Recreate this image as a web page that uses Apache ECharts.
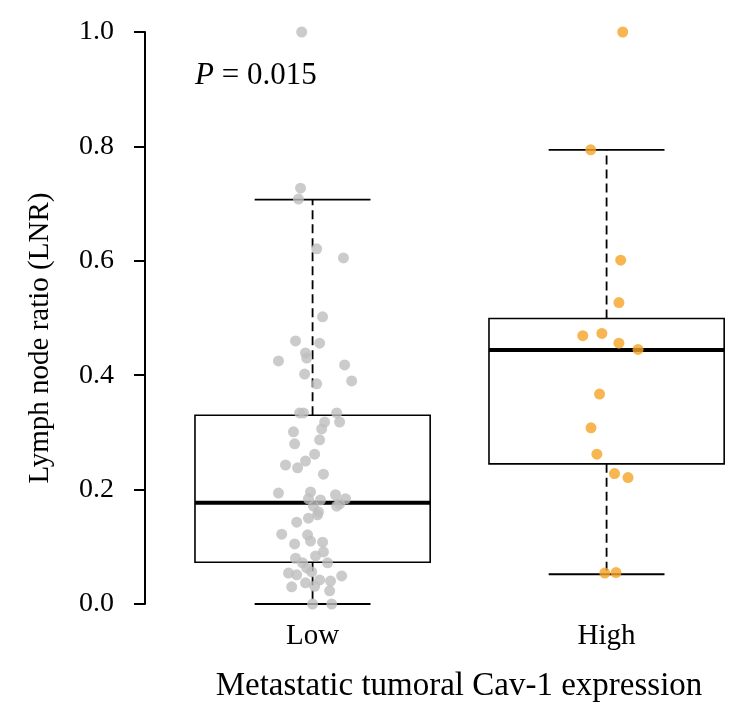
<!DOCTYPE html>
<html>
<head>
<meta charset="utf-8">
<script src="https://cdn.jsdelivr.net/npm/echarts@6/dist/echarts.min.js"></script>
<style>html,body{margin:0;padding:0;background:#fff}#c{width:746px;height:723px}</style>
</head>
<body>
<div id="c"></div>
<script>
const categories = ['Low', 'High'];
const yTickValues = [0.0, 0.2, 0.4, 0.6, 0.8, 1.0];
// box stats: [lower whisker, Q1, median, Q3, upper whisker]
const lowBox = [0.000, 0.073, 0.177, 0.330, 0.707];
const highBox = [0.052, 0.245, 0.444, 0.499, 0.794];
// jittered points: horizontal offsets (category units) and values
const lowOffsets = [-0.037,-0.041,-0.048,0.014,0.105,0.034,-0.058,0.024,-0.024,-0.020,-0.116,0.109,-0.027,0.133,0.014,-0.044,-0.031,0.082,0.092,0.041,0.031,-0.065,-0.061,0.024,0.007,-0.024,-0.092,-0.051,0.037,-0.116,-0.007,0.078,0.112,-0.014,0.027,0.092,0.003,0.082,0.020,0.017,-0.014,-0.054,-0.105,-0.017,-0.007,-0.061,0.034,0.037,0.010,-0.058,0.051,-0.034,-0.020,-0.082,-0.054,0.099,-0.003,-0.024,0.024,0.061,-0.071,0.058,0.007,0.000,0.065];
const lowValues = [1.000,0.727,0.708,0.621,0.605,0.502,0.460,0.456,0.439,0.430,0.425,0.418,0.402,0.390,0.385,0.334,0.334,0.334,0.318,0.318,0.306,0.301,0.280,0.287,0.262,0.250,0.243,0.238,0.227,0.194,0.196,0.191,0.184,0.184,0.182,0.175,0.171,0.171,0.161,0.156,0.150,0.143,0.122,0.121,0.110,0.105,0.108,0.091,0.084,0.080,0.072,0.072,0.063,0.054,0.051,0.049,0.056,0.037,0.042,0.040,0.030,0.023,0.031,0.000,0.000];
const highOffsets = [0.055,-0.054,0.048,0.042,-0.081,-0.016,0.042,0.107,-0.024,-0.053,-0.033,0.027,0.073,-0.006,0.032];
const highValues = [1.000,0.794,0.601,0.527,0.469,0.473,0.456,0.445,0.367,0.308,0.262,0.228,0.221,0.054,0.055];

const FONT = 'Liberation Serif';
const boxData = [[1].concat(lowBox), [2].concat(highBox)];
const lowPts = lowValues.map((v, i) => [1 + lowOffsets[i], v]);
const highPts = highValues.map((v, i) => [2 + highOffsets[i], v]);

function renderBox(params, api) {
  const x = api.value(0);
  const lo = api.value(1), q1 = api.value(2), md = api.value(3), q3 = api.value(4), hi = api.value(5);
  const hw = 0.4, cw = 0.197;
  const pL = api.coord([x - hw, q3]), pR = api.coord([x + hw, q1]);
  const c = (xx, yy) => api.coord([xx, yy]);
  const solid = {stroke: '#000', lineWidth: 1.8, fill: null};
  const dashed = {stroke: '#000', lineWidth: 1.8, lineDash: [9, 5]};
  return {
    type: 'group',
    children: [
      {type: 'rect', shape: {x: pL[0], y: pL[1], width: pR[0] - pL[0], height: pR[1] - pL[1]}, style: {stroke: '#000', lineWidth: 1.6, fill: 'none'}},
      {type: 'line', shape: {x1: c(x - hw, md)[0], y1: c(x, md)[1], x2: c(x + hw, md)[0], y2: c(x, md)[1]}, style: {stroke: '#000', lineWidth: 4}},
      {type: 'line', shape: {x1: c(x, q3)[0], y1: c(x, q3)[1], x2: c(x, hi)[0], y2: c(x, hi)[1]}, style: dashed},
      {type: 'line', shape: {x1: c(x, q1)[0], y1: c(x, q1)[1], x2: c(x, lo)[0], y2: c(x, lo)[1]}, style: dashed},
      {type: 'line', shape: {x1: c(x - cw, hi)[0], y1: c(x, hi)[1], x2: c(x + cw, hi)[0], y2: c(x, hi)[1]}, style: solid},
      {type: 'line', shape: {x1: c(x - cw, lo)[0], y1: c(x, lo)[1], x2: c(x + cw, lo)[0], y2: c(x, lo)[1]}, style: solid}
    ]
  };
}

const chart = echarts.init(document.getElementById('c'), null, {renderer: 'canvas'});
chart.setOption({
  animation: false,
  backgroundColor: '#fff',
  textStyle: {fontFamily: FONT, color: '#000'},
  title: {
    text: '{i|P} = 0.015',
    left: 190, top: 55,
    textStyle: {fontFamily: FONT, fontSize: 31, fontWeight: 'normal', color: '#000',
      rich: {i: {fontFamily: FONT, fontStyle: 'italic', fontSize: 31, color: '#000'}}}
  },
  grid: {left: 145, right: 13, top: 32, bottom: 119, containLabel: false},
  xAxis: {
    type: 'value', min: 0.43, max: 2.43,
    axisLine: {show: false}, axisTick: {show: false}, splitLine: {show: false},
    axisLabel: {customValues: [1, 2], formatter: v => categories[Math.round(v) - 1],
      fontFamily: FONT, fontSize: 29, color: '#000', margin: 18},
    name: 'Metastatic tumoral Cav-1 expression', nameLocation: 'middle', nameGap: 66,
    nameTextStyle: {fontFamily: FONT, fontSize: 33, color: '#000', padding: [0, 0, 0, 40]}
  },
  yAxis: {
    type: 'value', min: 0, max: 1, interval: 0.2,
    axisLine: {show: true, lineStyle: {color: '#000', width: 2}},
    axisTick: {show: true, length: 11, lineStyle: {color: '#000', width: 2}},
    splitLine: {show: false},
    axisLabel: {customValues: yTickValues, formatter: v => v.toFixed(1), fontFamily: FONT, fontSize: 28, color: '#000', margin: 31},
    name: 'Lymph node ratio (LNR)', nameLocation: 'middle', nameGap: 90,
    nameTextStyle: {fontFamily: FONT, fontSize: 29, color: '#000', padding: [0, 40, 0, 0]}
  },
  series: [
    {type: 'custom', renderItem: renderBox, data: boxData, z: 1, encode: {x: 0, y: [1, 2, 3, 4, 5]}},
    {type: 'scatter', data: lowPts, symbolSize: 11, itemStyle: {color: '#BEBEBE'}, z: 3},
    {type: 'scatter', data: highPts, symbolSize: 11, itemStyle: {color: '#F5A425'}, z: 3}
  ]
});
</script>
</body>
</html>
